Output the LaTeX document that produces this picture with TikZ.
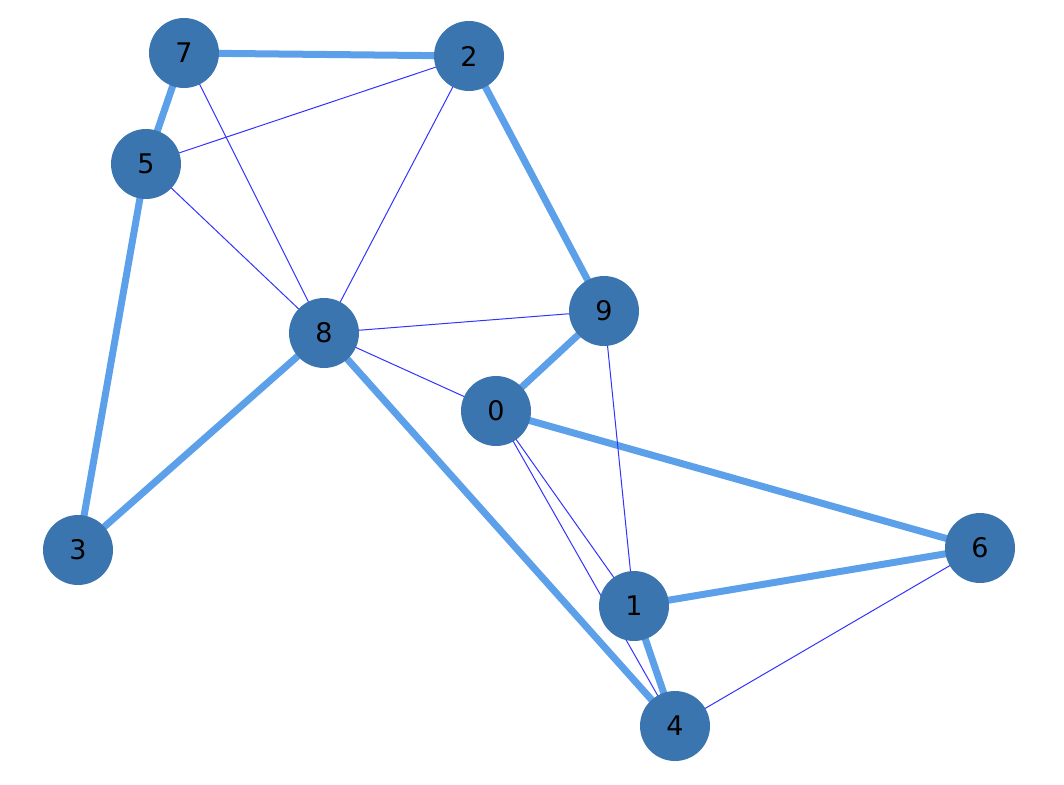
\documentclass[tikz,border=0pt]{standalone}
\usepackage{fontspec}
\setmainfont{DejaVu Sans}
\definecolor{nodec}{HTML}{3B75AF}
\definecolor{thickc}{HTML}{5DA0EA}
\definecolor{thinc}{HTML}{3333FF}
\tikzset{
 vtx/.style={circle,fill=nodec,minimum size=70pt,inner sep=0pt,font=\fontsize{27pt}{27pt}\selectfont,text=black},
 heavy/.style={draw=thickc,line width=7pt},
 light/.style={draw=thinc,line width=1pt}
}
\begin{document}
\begin{tikzpicture}[x=1pt,y=-1pt]
\useasboundingbox (0,0) rectangle (1064,784);
\coordinate (p7) at (184,53);
\coordinate (p2) at (469,56);
\coordinate (p5) at (146,164);
\coordinate (p8) at (324,333);
\coordinate (p9) at (604,311);
\coordinate (p0) at (496,411);
\coordinate (p3) at (78,550);
\coordinate (p6) at (980,548);
\coordinate (p1) at (634,606);
\coordinate (p4) at (675,726);
\foreach \a/\b in {7/2,7/5,5/3,2/9,9/0,8/3,8/4,0/6,1/6,1/4}
  \path[heavy] (p\a) -- (p\b);
\foreach \a/\b in {5/2,7/8,5/8,2/8,8/9,8/0,0/1,0/4,9/1,6/4}
  \path[light] (p\a) -- (p\b);
\foreach \n in {0,...,9}
  \node[vtx] (n\n) at (p\n) {\n};
\end{tikzpicture}
\end{document}
